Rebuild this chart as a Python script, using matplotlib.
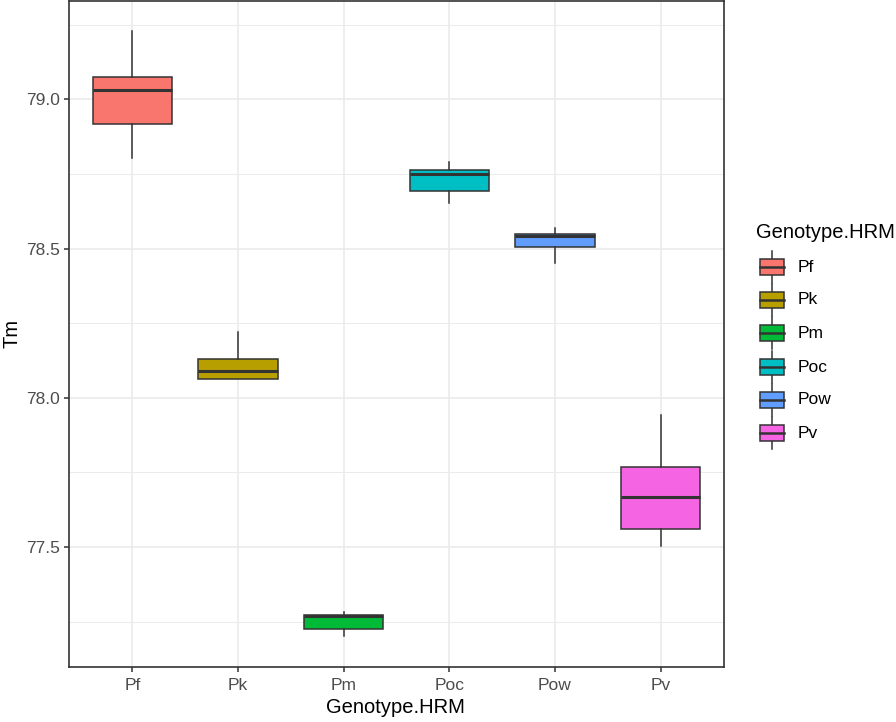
import matplotlib
matplotlib.use("Agg")
import matplotlib.pyplot as plt
from matplotlib.patches import Rectangle

plt.rcParams['font.family'] = ['Liberation Sans', 'DejaVu Sans']

# box statistics
genotypes = ["Pf", "Pk", "Pm", "Poc", "Pow", "Pv"]
whisk_lo = [78.803, 78.063, 77.203, 78.654, 78.452, 77.504]
q1 = [78.919, 78.063, 77.224, 78.693, 78.506, 77.559]
medians = [79.031, 78.090, 77.270, 78.749, 78.544, 77.667]
q3 = [79.075, 78.131, 77.272, 78.763, 78.549, 77.769]
whisk_hi = [79.231, 78.222, 77.281, 78.791, 78.569, 77.944]
colors = ["#F8766D", "#B79F00", "#00BA38", "#00BFC4", "#619CFF", "#F564E3"]

edge = "#333333"
grid_col = "#EBEBEB"
text_col = "#4D4D4D"

fig = plt.figure(figsize=(8.96, 7.22), dpi=100)
ax = fig.add_axes([69 / 896, (722 - 666.7) / 722, (724 - 69) / 896, 666.7 / 722 - 0.001])

stats = []
for i, g in enumerate(genotypes):
    stats.append({'label': g, 'whislo': whisk_lo[i], 'q1': q1[i], 'med': medians[i],
                  'q3': q3[i], 'whishi': whisk_hi[i], 'fliers': []})

positions = list(range(1, len(genotypes) + 1))
bp = ax.bxp(stats, positions=positions, widths=0.75, patch_artist=True,
            showcaps=False, showfliers=False,
            boxprops=dict(edgecolor=edge, linewidth=1.1),
            whiskerprops=dict(color=edge, linewidth=1.1),
            medianprops=dict(color=edge, linewidth=2.2, solid_capstyle='butt'),
            zorder=3)
for patch, c in zip(bp['boxes'], colors):
    patch.set_facecolor(c)

ax.set_xlim(0.4, 6.6)
ax.set_ylim(77.099, 79.331)
ax.set_xticks(positions)
ax.set_xticklabels(genotypes)
ax.set_yticks([77.5, 78.0, 78.5, 79.0])
ax.set_yticklabels(["77.5", "78.0", "78.5", "79.0"])
ax.set_yticks([77.25, 77.75, 78.25, 78.75, 79.25], minor=True)
ax.tick_params(axis='y', which='minor', length=0)

ax.grid(True, which='major', color=grid_col, linewidth=1.2, zorder=0)
ax.grid(True, which='minor', axis='y', color=grid_col, linewidth=0.7, zorder=0)
ax.set_axisbelow(True)

for sp in ax.spines.values():
    sp.set_color(edge)
    sp.set_linewidth(1.2)

ax.tick_params(axis='both', which='major', length=3.6, width=1.1, color=edge,
               labelcolor=text_col, labelsize=12.5)
ax.tick_params(axis='x', pad=4.5)
ax.tick_params(axis='y', pad=3)

ax.set_xlabel("Genotype.HRM", fontsize=14.5, color="black", va='center')
ax.set_ylabel("Tm", fontsize=14.5, color="black", va='center')
ax.xaxis.set_label_coords(0.499, -0.062)
ax.yaxis.set_label_coords(-0.087, 0.5)

# legend drawn by hand, ggplot style
fig.text(756 / 896, 1 - 232 / 722, "Genotype.HRM", fontsize=14.5, va='center', ha='left')
key_y = [267, 300, 333, 367, 400, 433]
lax = fig.add_axes([0, 0, 1, 1], facecolor='none')
lax.set_xlim(0, 896)
lax.set_ylim(722, 0)
lax.axis('off')
for g, c, y in zip(genotypes, colors, key_y):
    lax.plot([772, 772], [y - 16, y + 16], color=edge, linewidth=1.1)
    lax.add_patch(Rectangle((760, y - 8), 24, 16, facecolor=c, edgecolor=edge, linewidth=1.1, zorder=3))
    lax.plot([760, 784], [y, y], color=edge, linewidth=1.8, zorder=4)
    lax.text(798, y, g, fontsize=12.5, va='center', ha='left', color='black')

fig.savefig("out.png", dpi=100)
